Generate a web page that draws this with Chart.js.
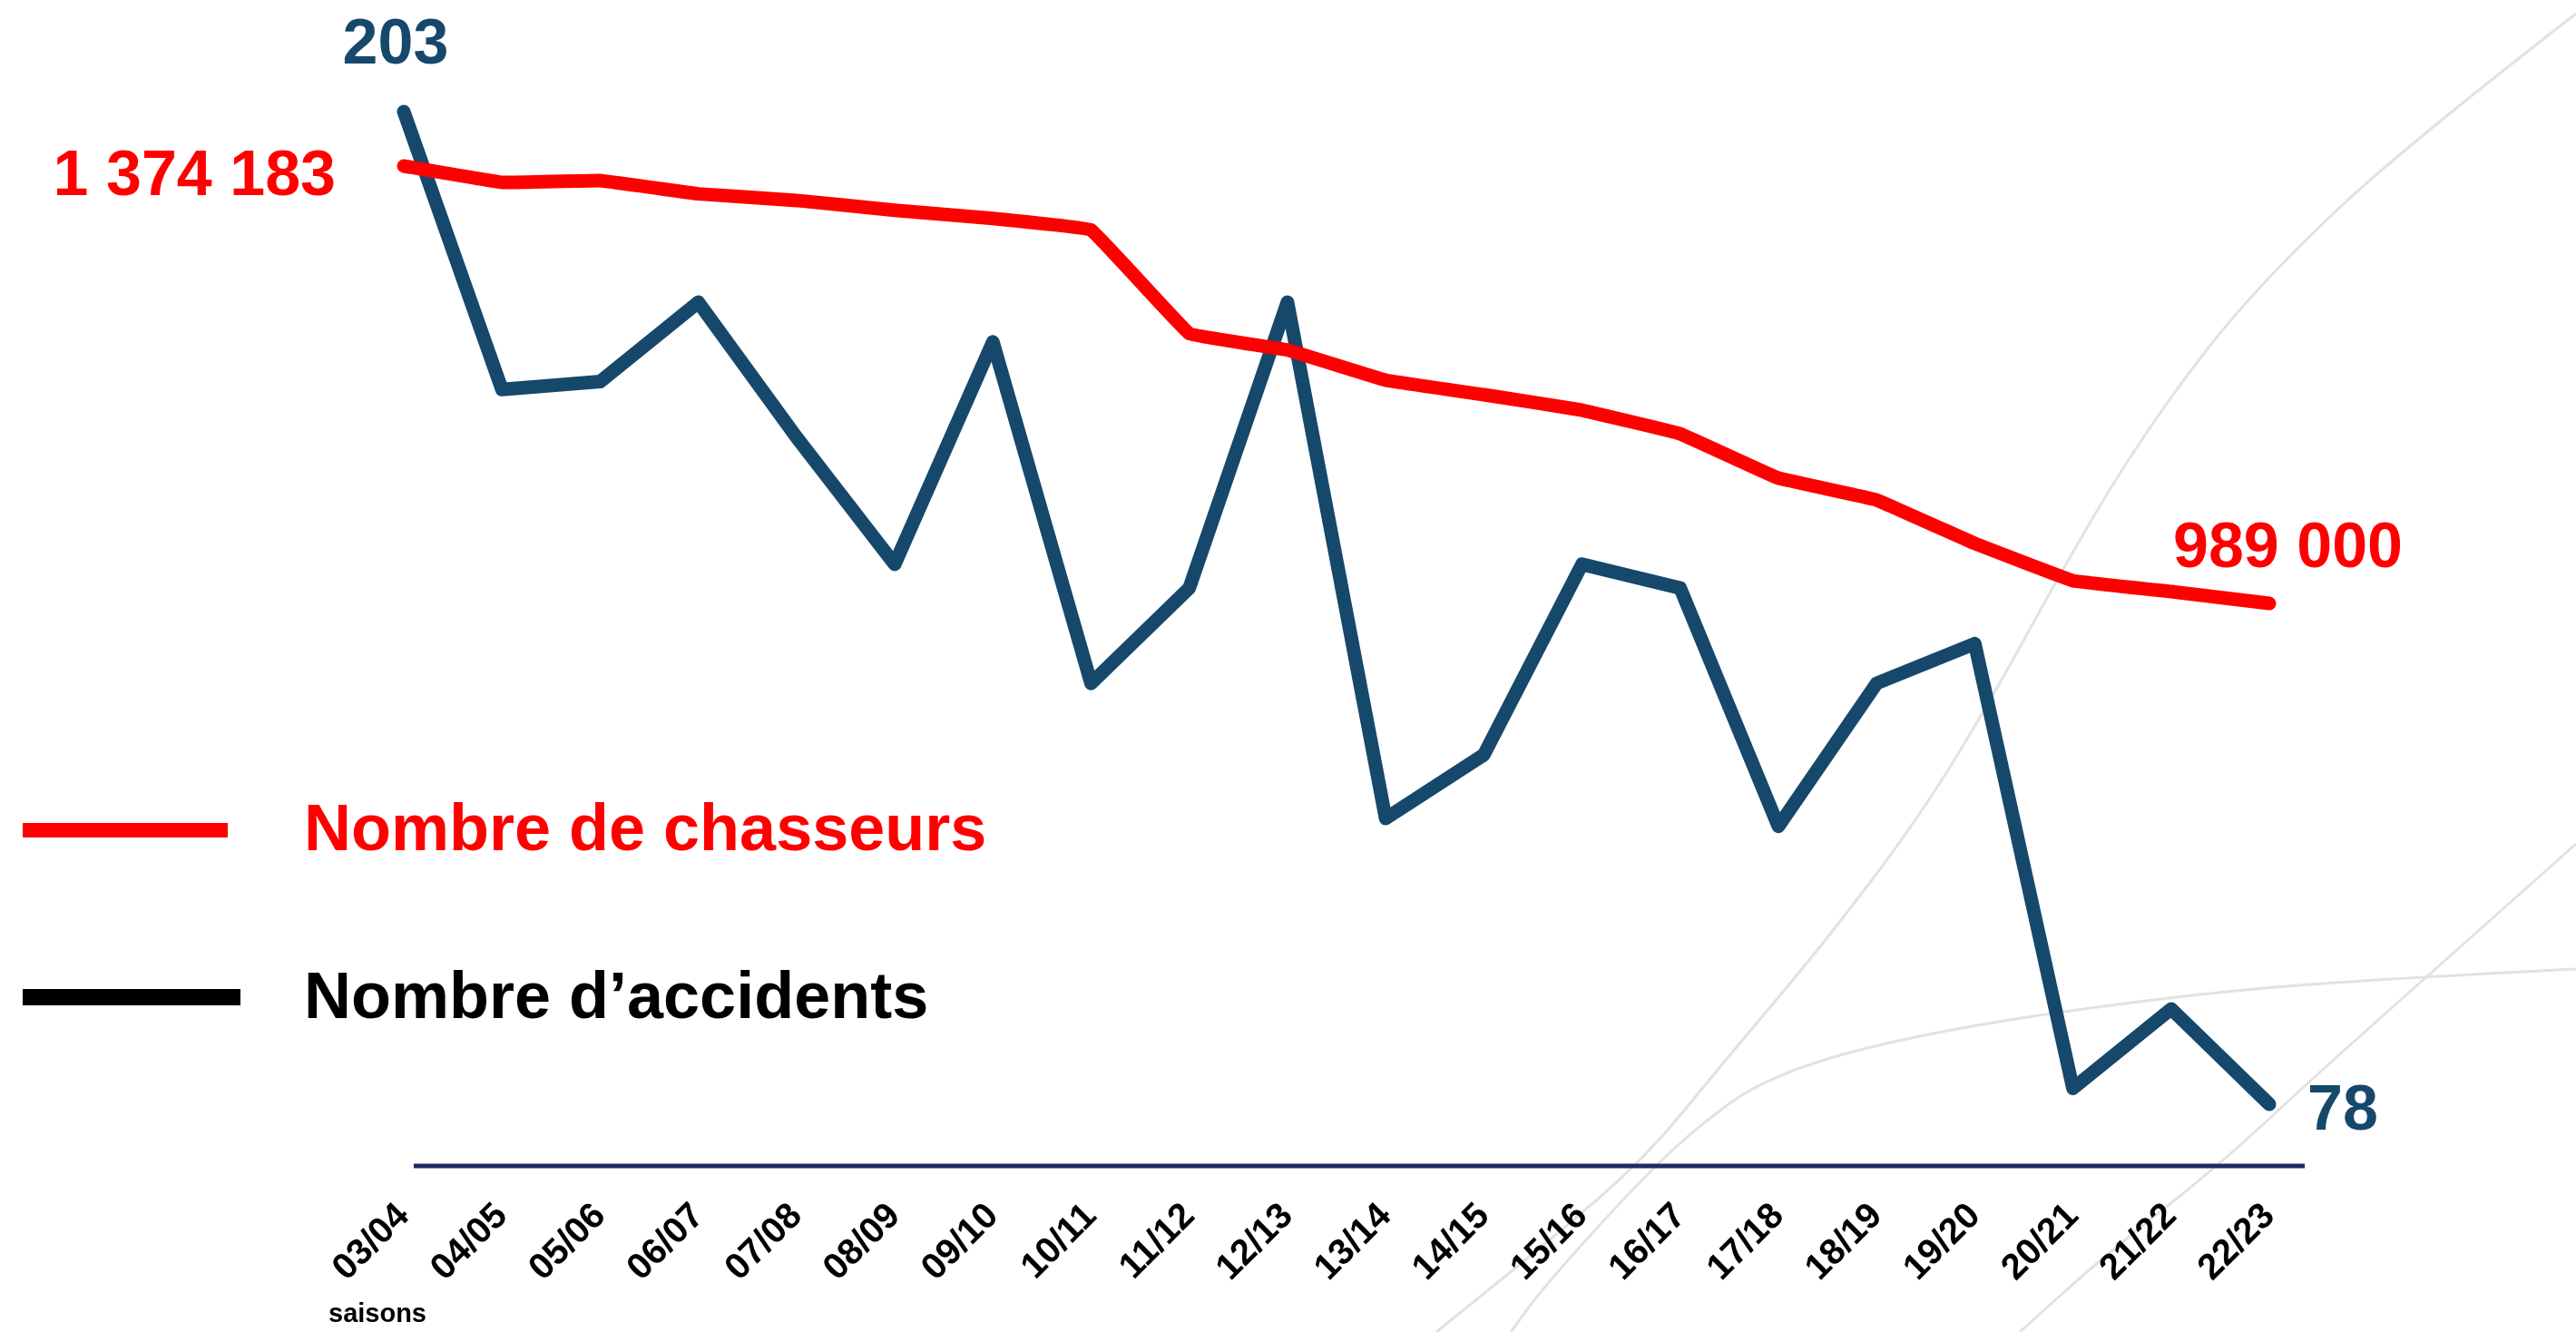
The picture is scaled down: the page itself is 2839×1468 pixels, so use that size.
<!DOCTYPE html>
<html>
<head>
<meta charset="utf-8">
<script src="https://cdn.jsdelivr.net/npm/chart.js@4/dist/chart.umd.min.js"></script>
<style>
  html, body { margin: 0; padding: 0; background: #ffffff; }
  #wrap { width: 2839px; height: 1468px; position: relative; }
</style>
</head>
<body>
<div id="wrap"><canvas id="c" width="2839" height="1468"></canvas></div>
<script>
// ---- Data ----
const seasons = ['03/04','04/05','05/06','06/07','07/08','08/09','09/10','10/11','11/12','12/13',
                 '13/14','14/15','15/16','16/17','17/18','18/19','19/20','20/21','21/22','22/23'];
const hunters = [1374183, 1359800, 1361400, 1349700, 1343900, 1335200, 1328000, 1317850, 1226700, 1212200,
                 1185600, 1172800, 1159200, 1138400, 1099300, 1080100, 1041800, 1009000, 999400, 989000];
const accidents = [203, 168, 169, 179, 162, 146, 174, 131, 143, 179,
                   114, 122, 146, 143, 113, 131, 136, 80, 90, 78];
const seriesNames = ['Nombre de chasseurs', 'Nombre d\u2019accidents'];
const axisTitle = 'saisons';

// ---- Styles ----
const RED = '#ff0000';
const BLUE = '#16486c';
const AXIS = '#1f2a5e';
const FONT = '"Liberation Sans", Arial, sans-serif';

function fmt(v) { return String(v).replace(/\B(?=(\d{3})+(?!\d))/g, ' '); }

// Decorative background arcs of the slide
const bgArcs = {
  id: 'bgArcs',
  beforeDraw(chart) {
    const ctx = chart.ctx;
    const curves = [
      [[2839, 15], [2642, 168], [2508, 296], [2428, 388], [2342, 510], [2267, 638], [2198, 765],
       [2116, 900], [2006, 1045], [1900, 1170], [1813, 1277], [1703, 1371], [1583, 1468]],
      [[2839, 930], [2685, 1067], [2547, 1190], [2446, 1284], [2318, 1385], [2226, 1468]],
      [[2839, 1068], [2618, 1079], [2409, 1096], [2134, 1135], [1951, 1183], [1860, 1250],
       [1790, 1320], [1700, 1420], [1665, 1468]]
    ];
    ctx.save();
    ctx.strokeStyle = '#e2e2e2';
    ctx.lineWidth = 3;
    curves.forEach(pts => {
      ctx.beginPath();
      ctx.moveTo(pts[0][0], pts[0][1]);
      for (let i = 1; i < pts.length - 1; i++) {
        const mx = (pts[i][0] + pts[i + 1][0]) / 2, my = (pts[i][1] + pts[i + 1][1]) / 2;
        ctx.quadraticCurveTo(pts[i][0], pts[i][1], mx, my);
      }
      const l = pts[pts.length - 1];
      ctx.lineTo(l[0], l[1]);
      ctx.stroke();
    });
    ctx.restore();
  }
};

// Axis baseline (slightly longer than the plotted range, as in the slide)
const axisLine = {
  id: 'axisLine',
  beforeDatasetsDraw(chart) {
    const xs = chart.scales.x;
    const ctx = chart.ctx;
    ctx.save();
    ctx.strokeStyle = AXIS;
    ctx.lineWidth = 5;
    ctx.beginPath();
    ctx.moveTo(xs.left + 11, xs.top);
    ctx.lineTo(xs.right + 39, xs.top);
    ctx.stroke();
    ctx.restore();
  }
};

// End-point value labels
const endLabels = {
  id: 'endLabels',
  afterDatasetsDraw(chart) {
    const ctx = chart.ctx;
    ctx.save();
    ctx.font = 'bold 70px ' + FONT;
    ctx.textBaseline = 'alphabetic';
    const mh = chart.getDatasetMeta(0).data;
    const ma = chart.getDatasetMeta(1).data;
    const n = seasons.length - 1;
    ctx.fillStyle = RED;
    ctx.textAlign = 'right';
    ctx.fillText(fmt(hunters[0]), mh[0].x - 75, mh[0].y + 32);
    ctx.textAlign = 'left';
    ctx.fillText(fmt(hunters[n]), mh[n].x - 106, mh[n].y - 40);
    ctx.fillStyle = BLUE;
    ctx.textAlign = 'center';
    ctx.fillText(fmt(accidents[0]), ma[0].x - 9, ma[0].y - 53);
    ctx.textAlign = 'left';
    ctx.fillText(fmt(accidents[n]), ma[n].x + 42, ma[n].y + 28);
    ctx.restore();
  }
};

// Legend + axis caption
const sideLegend = {
  id: 'sideLegend',
  afterDraw(chart) {
    const ctx = chart.ctx;
    const xs = chart.scales.x;
    ctx.save();
    const items = [
      { text: seriesNames[0], line: RED, txt: RED, y: 915, x2: 251, w: 16, tb: 937 },
      { text: seriesNames[1], line: '#000000', txt: '#000000', y: 1099, x2: 265, w: 18, tb: 1122 }
    ];
    items.forEach(it => {
      ctx.strokeStyle = it.line;
      ctx.lineWidth = it.w;
      ctx.lineCap = 'butt';
      ctx.beginPath();
      ctx.moveTo(25, it.y);
      ctx.lineTo(it.x2, it.y);
      ctx.stroke();
      ctx.fillStyle = it.txt;
      ctx.font = 'bold 72px ' + FONT;
      ctx.textAlign = 'left';
      ctx.textBaseline = 'alphabetic';
      ctx.fillText(it.text, 335, it.tb);
    });
    ctx.fillStyle = '#000000';
    ctx.font = 'bold 29px ' + FONT;
    ctx.textAlign = 'left';
    ctx.fillText(axisTitle, xs.left - 83, 1457);
    ctx.restore();
  }
};

new Chart(document.getElementById('c'), {
  type: 'line',
  data: {
    labels: seasons,
    datasets: [
      {
        label: seriesNames[0], data: hunters, yAxisID: 'yH',
        borderColor: RED, borderWidth: 15, pointRadius: 0, tension: 0.05,
        borderJoinStyle: 'round', borderCapStyle: 'round', clip: false
      },
      {
        label: seriesNames[1], data: accidents, yAxisID: 'yA',
        borderColor: BLUE, borderWidth: 15, pointRadius: 0, tension: 0,
        borderJoinStyle: 'round', borderCapStyle: 'round', clip: false
      }
    ]
  },
  options: {
    responsive: false,
    animation: false,
    devicePixelRatio: 1,
    layout: { padding: { left: 445, right: 338, top: 60, bottom: 0 } },
    plugins: { legend: { display: false }, tooltip: { enabled: false }, title: { display: false } },
    scales: {
      x: {
        type: 'category', offset: false,
        grid: { display: false, drawTicks: false },
        border: { display: false },
        ticks: {
          color: '#000000', autoSkip: false, maxRotation: 45, minRotation: 45, padding: 32,
          font: { family: FONT, weight: 'bold', size: 40 }
        },
        afterFit(scale) { scale.height = 183; }
      },
      yH: { type: 'linear', position: 'left', display: false, min: 493555, max: 1472473 },
      yA: { type: 'linear', position: 'right', display: false, min: 70.23, max: 210.2 }
    }
  },
  plugins: [bgArcs, axisLine, endLabels, sideLegend]
});
</script>
</body>
</html>
